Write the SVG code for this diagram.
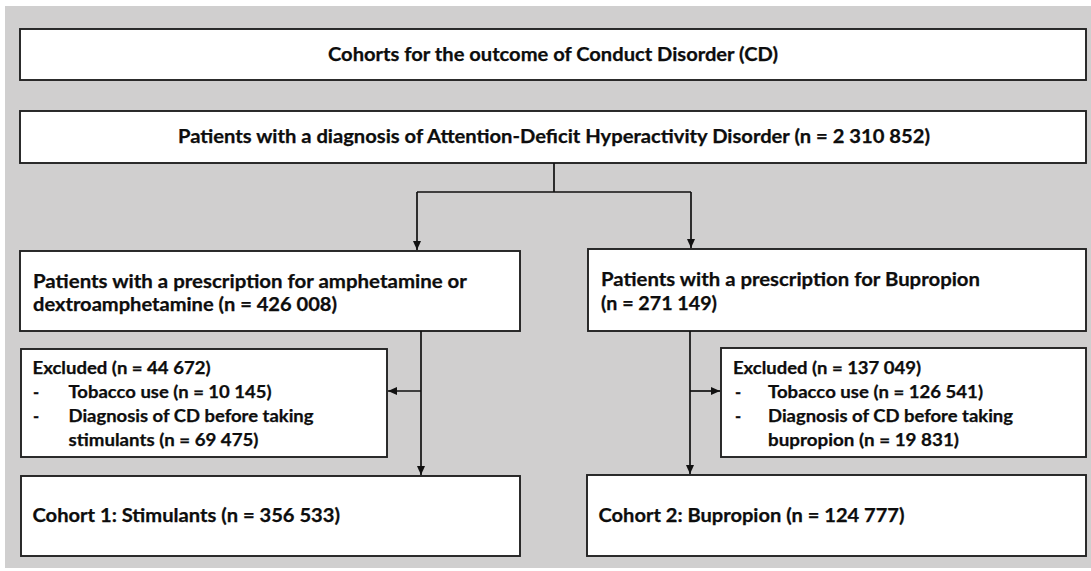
<svg xmlns="http://www.w3.org/2000/svg" width="1091" height="571" viewBox="0 0 1091 571">
<defs>
<style>
.box{fill:#ffffff;stroke:#222222;stroke-width:1.9}
.t{font-family:Lato,"Open Sans","Liberation Sans",sans-serif;font-weight:bold;fill:#0d0d0d;stroke:#0d0d0d;stroke-width:0.25}
.big{font-size:18.5px}
.small{font-size:16.5px}
.conn{fill:none;stroke:#111111;stroke-width:1.7}
</style>
<marker id="ah" markerUnits="userSpaceOnUse" markerWidth="10" markerHeight="10" viewBox="0 0 10 10" refX="9" refY="5" orient="auto">
<path d="M0,1 L9,5 L0,9 Z" fill="#111111"/>
</marker>
</defs>
<rect x="0" y="0" width="1091" height="571" fill="#ffffff"/>
<rect x="5" y="6" width="1086" height="562" fill="#d0cfcf"/>

<g id="title">
<rect class="box" x="20" y="29" width="1066" height="51"/>
<text class="t big" x="328" y="61" textLength="450" lengthAdjust="spacingAndGlyphs">Cohorts for the outcome of Conduct Disorder (CD)</text>
</g>

<g id="adhd">
<rect class="box" x="20" y="111" width="1066" height="52"/>
<text class="t big" x="178" y="143" textLength="752" lengthAdjust="spacingAndGlyphs">Patients with a diagnosis of Attention-Deficit Hyperactivity Disorder (n = 2 310 852)</text>
</g>

<g id="amph">
<rect class="box" x="20" y="251" width="500" height="80"/>
<text class="t big" x="33" y="288" textLength="434" lengthAdjust="spacingAndGlyphs">Patients with a prescription for amphetamine or</text>
<text class="t big" x="33" y="311" textLength="304" lengthAdjust="spacingAndGlyphs">dextroamphetamine (n = 426 008)</text>
</g>

<g id="bup">
<rect class="box" x="588" y="249" width="498" height="82"/>
<text class="t big" x="601" y="286" textLength="379" lengthAdjust="spacingAndGlyphs">Patients with a prescription for Bupropion</text>
<text class="t big" x="601" y="310" textLength="116" lengthAdjust="spacingAndGlyphs">(n = 271 149)</text>
</g>

<g id="excl1">
<rect class="box" x="21" y="349" width="366" height="108"/>
<text class="t small" x="32.5" y="374" textLength="178" lengthAdjust="spacingAndGlyphs">Excluded (n = 44 672)</text>
<text class="t small" x="33" y="398">-</text>
<text class="t small" x="68.5" y="398" textLength="203" lengthAdjust="spacingAndGlyphs">Tobacco use (n = 10 145)</text>
<text class="t small" x="33" y="422">-</text>
<text class="t small" x="68.5" y="422" textLength="245" lengthAdjust="spacingAndGlyphs">Diagnosis of CD before taking</text>
<text class="t small" x="68.5" y="446" textLength="190" lengthAdjust="spacingAndGlyphs">stimulants (n = 69 475)</text>
</g>

<g id="excl2">
<rect class="box" x="721" y="348" width="365" height="109"/>
<text class="t small" x="733" y="373.5" textLength="188" lengthAdjust="spacingAndGlyphs">Excluded (n = 137 049)</text>
<text class="t small" x="735" y="397.5">-</text>
<text class="t small" x="768" y="397.5" textLength="215" lengthAdjust="spacingAndGlyphs">Tobacco use (n = 126 541)</text>
<text class="t small" x="735" y="421.5">-</text>
<text class="t small" x="768" y="421.5" textLength="245" lengthAdjust="spacingAndGlyphs">Diagnosis of CD before taking</text>
<text class="t small" x="768" y="445.5" textLength="191" lengthAdjust="spacingAndGlyphs">bupropion (n = 19 831)</text>
</g>

<g id="cohort1">
<rect class="box" x="21" y="476" width="499" height="80"/>
<text class="t big" x="32.5" y="522" textLength="307.5" lengthAdjust="spacingAndGlyphs">Cohort 1: Stimulants (n = 356 533)</text>
</g>

<g id="cohort2">
<rect class="box" x="587" y="475" width="499" height="81"/>
<text class="t big" x="598.5" y="522" textLength="306" lengthAdjust="spacingAndGlyphs">Cohort 2: Bupropion (n = 124 777)</text>
</g>

<g id="connectors">
<path class="conn" d="M554,163 V192 M417,192 H691"/>
<path class="conn" d="M417,192 V250" marker-end="url(#ah)"/>
<path class="conn" d="M691,192 V248" marker-end="url(#ah)"/>
<path class="conn" d="M421,331 V475" marker-end="url(#ah)"/>
<path class="conn" d="M421,391 H388" marker-end="url(#ah)"/>
<path class="conn" d="M690,331 V474" marker-end="url(#ah)"/>
<path class="conn" d="M690,391 H720" marker-end="url(#ah)"/>
</g>
</svg>
